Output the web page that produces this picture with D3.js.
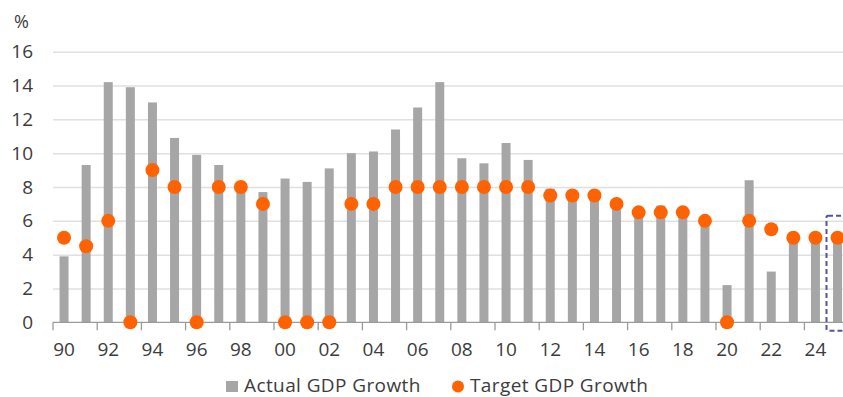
<!DOCTYPE html>
<html>
<head>
<meta charset="utf-8">
<script src="https://cdn.jsdelivr.net/npm/d3@7"></script>
<style>
  html, body { margin: 0; padding: 0; background: #fff; overflow: hidden; }
  svg { display: block; }
  text { font-family: "Open Sans", "Noto Sans", sans-serif; fill: #3c3c3c; }
</style>
</head>
<body>
<svg id="chart" width="843" height="397"></svg>
<script>
// China: actual vs. target GDP growth, % YoY
const years = d3.range(1990, 2026).map(String);
const actualGrowth = [3.9, 9.3, 14.2, 13.9, 13.0, 10.9, 9.9, 9.3, 7.8, 7.7,
  8.5, 8.3, 9.1, 10.0, 10.1, 11.4, 12.7, 14.2, 9.7, 9.4,
  10.6, 9.6, 7.9, 7.8, 7.4, 7.0, 6.8, 6.9, 6.7, 6.0,
  2.2, 8.4, 3.0, 5.2, 5.0, 4.7];
const targetGrowth = [5, 4.5, 6, 0, 9, 8, 0, 8, 8, 7,
  0, 0, 0, 7, 7, 8, 8, 8, 8, 8,
  8, 8, 7.5, 7.5, 7.5, 7, 6.5, 6.5, 6.5, 6,
  0, 6, 5.5, 5, 5, 5];
const yTicks = [0, 2, 4, 6, 8, 10, 12, 14, 16];
const seriesNames = ["Actual GDP Growth", "Target GDP Growth"];
const highlightYear = "2025";

const svg = d3.select("#chart");
const left = 53, step = 22.1;
const x = d3.scaleBand().domain(years).range([left, left + step * years.length]).padding(0);
const y = d3.scaleLinear().domain([0, 16]).range([322.3, 51.7]);
const barW = 9;

// horizontal gridlines + y labels
const yAxis = svg.append("g")
  .attr("transform", `translate(${left},0)`)
  .call(d3.axisLeft(y).tickValues(yTicks).tickSize(-(843 - left)).tickPadding(20).tickFormat(d3.format("d")));
yAxis.select(".domain").remove();
yAxis.selectAll(".tick line").attr("stroke", "#e0e0e0").attr("stroke-width", 1.5)
  .filter(d => d === 0).remove();
yAxis.selectAll(".tick text").style("font-size", "19px").attr("fill", "#3c3c3c");

svg.append("text").attr("x", 14).attr("y", 28).style("font-size", "18px").text("%");

// bars
svg.append("g").selectAll("rect").data(years).join("rect")
  .attr("x", d => x(d) + (x.bandwidth() - barW) / 2)
  .attr("width", barW)
  .attr("y", (d, i) => y(actualGrowth[i]))
  .attr("height", (d, i) => y(0) - y(actualGrowth[i]))
  .attr("fill", "#a6a6a6");

// x axis
const xAxis = svg.append("g")
  .attr("transform", `translate(0,${y(0)})`)
  .call(d3.axisBottom(x).tickValues(years.filter((d, i) => i % 2 === 0))
    .tickSize(8).tickPadding(12).tickFormat(d => d.slice(2)));
xAxis.select(".domain").attr("stroke", "#9a9a9a").attr("stroke-width", 1.3)
  .attr("d", `M${left},0H843`);
xAxis.selectAll(".tick line").attr("stroke", "#9a9a9a").attr("stroke-width", 1.3)
  .attr("transform", `translate(${-x.bandwidth() / 2},0)`);
xAxis.selectAll(".tick text").style("font-size", "19px").attr("fill", "#3c3c3c");

// target dots
svg.append("g").selectAll("circle").data(years).join("circle")
  .attr("cx", d => x(d) + x.bandwidth() / 2)
  .attr("cy", (d, i) => y(targetGrowth[i]))
  .attr("r", 7)
  .attr("fill", "#ff6200");

// dashed frame around the latest year
svg.append("rect")
  .attr("x", x(highlightYear))
  .attr("y", y(6.3))
  .attr("width", x.bandwidth() + 6)
  .attr("height", y(0) + 8.5 - y(6.3))
  .attr("rx", 1.5)
  .attr("fill", "none")
  .attr("stroke", "#5352a3")
  .attr("stroke-width", 2)
  .attr("stroke-dasharray", "5,3");

// legend
const lg = svg.append("g");
lg.append("rect").attr("x", 226).attr("y", 381).attr("width", 12).attr("height", 11).attr("fill", "#a6a6a6");
lg.append("text").attr("x", 244).attr("y", 392).style("font-size", "19px").style("letter-spacing", "0.4px").text(seriesNames[0]);
lg.append("circle").attr("cx", 458).attr("cy", 386.5).attr("r", 6).attr("fill", "#ff6200");
lg.append("text").attr("x", 470).attr("y", 392).style("font-size", "19px").style("letter-spacing", "0.4px").text(seriesNames[1]);
</script>
</body>
</html>
